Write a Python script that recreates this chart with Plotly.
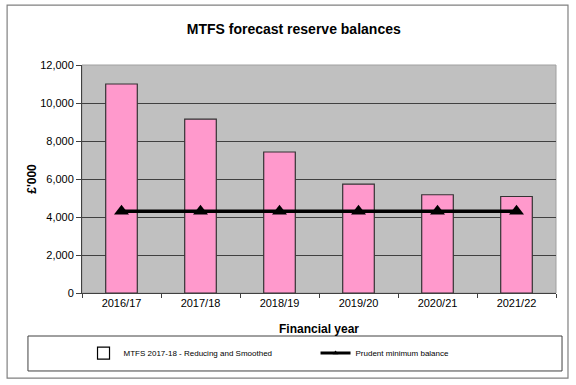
import plotly.graph_objects as go

years = ["2016/17", "2017/18", "2018/19", "2019/20", "2020/21", "2021/22"]
reserve_balance = [11000, 9150, 7420, 5730, 5170, 5080]
prudent_minimum = [4300, 4300, 4300, 4300, 4300, 4300]
y_ticks = [0, 2000, 4000, 6000, 8000, 10000, 12000]

bar_name = "MTFS 2017-18 - Reducing and Smoothed"
line_name = "Prudent minimum balance"

fig = go.Figure()
fig.add_trace(go.Bar(
    x=years, y=reserve_balance, name=bar_name, showlegend=False,
    marker=dict(color="#FF99CC", line=dict(color="#333333", width=1.2)),
))
fig.add_trace(go.Scatter(
    x=years, y=prudent_minimum, name=line_name, showlegend=False,
    mode="lines+markers",
    line=dict(color="black", width=3.5),
    marker=dict(symbol="triangle-up", size=13, color="black"),
))
# legend-only entries
fig.add_trace(go.Bar(
    x=[None], y=[None], name=bar_name,
    marker=dict(color="white", line=dict(color="black", width=1.2)),
))
fig.add_trace(go.Scatter(
    x=[None], y=[None], name=line_name, mode="lines+markers",
    line=dict(color="black", width=3),
    marker=dict(symbol="triangle-up", size=5, color="black"),
))

font_family = "Liberation Sans, Arial, sans-serif"

fig.update_layout(
    width=576, height=385,
    margin=dict(l=82, r=20, t=65, b=92, autoexpand=False),
    paper_bgcolor="white",
    plot_bgcolor="#C0C0C0",
    font=dict(family=font_family, color="black", size=11),
    bargap=0.6,
    title=dict(text="<b>MTFS forecast reserve balances</b>", x=0.51, xref="container",
               xanchor="center", y=0.925, yref="container", yanchor="middle",
               font=dict(size=14)),
    showlegend=True,
    legend=dict(orientation="h", x=0.145, xanchor="left", y=0.083, yanchor="middle",
                xref="container", yref="container", font=dict(size=8),
                bgcolor="rgba(0,0,0,0)",
                entrywidth=187, entrywidthmode="pixels", traceorder="normal"),
    xaxis=dict(
        type="category", tickson="boundaries", ticks="outside", ticklen=4,
        tickcolor="#404040", showline=True, linecolor="#404040", linewidth=1,
        showgrid=False, tickfont=dict(size=11), automargin=False,
        title=dict(text="<b>Financial year</b>", font=dict(size=12), standoff=16),
    ),
    yaxis=dict(
        range=[0, 12000], tickvals=y_ticks, tickformat=",d", ticks="outside",
        ticklen=5, tickcolor="#404040", showline=True, linecolor="#404040",
        linewidth=1, showgrid=True, gridcolor="#404040", gridwidth=1,
        zeroline=False, tickfont=dict(size=11), automargin=False,
        title=dict(text="<b>£'000</b>", font=dict(size=12), standoff=0),
    ),
    shapes=[
        dict(type="rect", xref="paper", yref="paper", x0=-0.158, x1=1.0253,
             y0=-0.373, y1=1.263, line=dict(color="#808080", width=1.2),
             fillcolor="rgba(0,0,0,0)", layer="below"),
        dict(type="rect", xref="paper", yref="paper", x0=-0.114, x1=1.0127,
             y0=-0.342, y1=-0.1886, line=dict(color="#404040", width=1),
             fillcolor="rgba(0,0,0,0)"),
        dict(type="rect", xref="paper", yref="paper", x0=0, x1=1, y0=0, y1=1,
             line=dict(color="#A0A0A0", width=1), fillcolor="rgba(0,0,0,0)",
             layer="below"),
    ],
)

fig.write_html("out.html", config={"displayModeBar": False},
               post_script="document.body.style.margin='0';")
